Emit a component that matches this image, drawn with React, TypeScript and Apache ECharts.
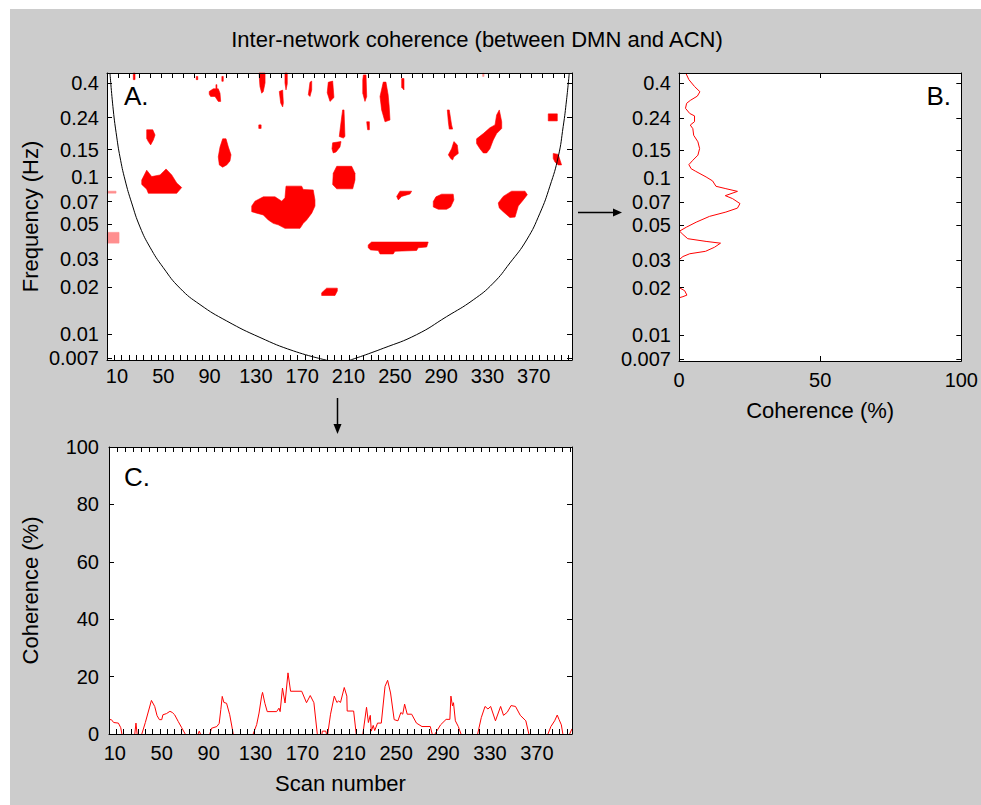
import React, { useEffect, useRef } from "react";
import * as echarts from "echarts";

const FONT = '"Liberation Sans", Arial, Helvetica, sans-serif';
const L10 = Math.log10;

// ---------- axis ranges & tick labels ----------
const scanRangeA = [1.4, 403];
const scanRangeC = [5, 400];
const freqRange = [0.00682, 0.463];
const scanTickLabels = [10, 50, 90, 130, 170, 210, 250, 290, 330, 370];
const freqTicks = [0.007, 0.01, 0.02, 0.03, 0.05, 0.07, 0.1, 0.15, 0.24, 0.4];
const freqTickLabels = ["0.007", "0.01", "0.02", "0.03", "0.05", "0.07", "0.1", "0.15", "0.24", "0.4"];
const cohTicksB = [0, 50, 100];

// ---------- panel A: cone of influence (scan, Hz) ----------
const coiLeft: [number, number][] = [
  [4, 0.46], [6.8, 0.269], [9.8, 0.181], [12.6, 0.135], [17, 0.096], [22.7, 0.0686],
  [29.9, 0.0482], [38.5, 0.0358], [50, 0.0265], [64.4, 0.0196], [81.7, 0.0154],
  [104.8, 0.0121], [133.5, 0.0095], [162.3, 0.0078], [191.1, 0.0068],
];
const coiRight: [number, number][] = [
  [211.2, 0.0068], [240, 0.0081], [268.8, 0.0099], [294.7, 0.0129], [317.7, 0.0165],
  [335, 0.0211], [349.4, 0.0284], [363.8, 0.0398], [375.3, 0.059], [383.9, 0.0877],
  [391.1, 0.135], [395.4, 0.211], [398.3, 0.312], [400.6, 0.46],
];

// ---------- panel A: significant coherence regions (scan, Hz) ----------
const sigRegions: [number, number][][] = [
  [[31.4, 0.096], [35.7, 0.111], [40, 0.101], [47.2, 0.1035], [52.4, 0.113], [57.3, 0.1035], [61.6, 0.092], [65.9, 0.086], [61.6, 0.079], [37.1, 0.079], [35.7, 0.084], [31.4, 0.09]],
  [[35.7, 0.201], [40.9, 0.201], [42.9, 0.186], [41.4, 0.173], [39.1, 0.161], [37.1, 0.169], [35.7, 0.177]],
  [[89.7, 0.353], [93.2, 0.367], [95.5, 0.367], [95.5, 0.39], [96.3, 0.39], [96.3, 0.367], [97.5, 0.367], [99, 0.344], [99.6, 0.305], [97.5, 0.305], [94.7, 0.328], [90.9, 0.328], [89.7, 0.339]],
  [[101.3, 0.176], [104.2, 0.176], [106.2, 0.156], [108.5, 0.139], [107.6, 0.127], [104.8, 0.12], [101.3, 0.116], [98.4, 0.12], [97.5, 0.135], [99, 0.156]],
  [[132.5, 0.216], [134.5, 0.216], [134.5, 0.205], [132.5, 0.205]],
  [[132.7, 0.463], [137.9, 0.463], [137.9, 0.4], [136.4, 0.353], [135, 0.344], [133.5, 0.38]],
  [[150.2, 0.353], [153.1, 0.36], [153.7, 0.298], [153.1, 0.281], [151.4, 0.298]],
  [[155.1, 0.463], [157.1, 0.463], [157.1, 0.395], [156, 0.361], [155.1, 0.4]],
  [[176.7, 0.404], [178.2, 0.411], [178.2, 0.361], [176.7, 0.328], [175.3, 0.336]],
  [[126.4, 0.0655], [129.2, 0.0704], [136.4, 0.075], [146.5, 0.075], [152.3, 0.0704], [155.1, 0.074], [156, 0.0878], [169.5, 0.0878], [170.9, 0.0836], [179.5, 0.083], [181, 0.0717], [181, 0.0655], [178.2, 0.059], [173.8, 0.0534], [170.9, 0.0508], [168.1, 0.0472], [155.1, 0.0472], [149.3, 0.0497], [145, 0.0508], [140.7, 0.0534], [136.4, 0.0575], [130.7, 0.059], [126.4, 0.0603]],
  [[186.8, 0.0183], [191.1, 0.0196], [200.3, 0.0196], [200.3, 0.0188], [198.3, 0.0176], [186.8, 0.0176]],
  [[196.8, 0.106], [199.8, 0.1175], [212.7, 0.1175], [215.6, 0.106], [215.6, 0.0962], [213.6, 0.0844], [199.8, 0.0844], [196.3, 0.0898]],
  [[196.3, 0.166], [203.5, 0.169], [202.6, 0.156], [199.2, 0.145], [196.8, 0.143], [195.7, 0.152]],
  [[204.9, 0.269], [206.1, 0.269], [206.9, 0.182], [205.5, 0.178], [202, 0.182], [203.2, 0.216]],
  [[192.5, 0.404], [196.3, 0.411], [197.4, 0.323], [194, 0.305], [191.6, 0.346]],
  [[222.8, 0.45], [225.1, 0.45], [225.7, 0.328], [224.2, 0.305], [222.3, 0.344], [222.3, 0.418]],
  [[225.7, 0.226], [228, 0.226], [228, 0.201], [226.5, 0.201]],
  [[240, 0.405], [242.3, 0.405], [244.2, 0.336], [245.1, 0.284], [245.8, 0.232], [241.5, 0.226], [238.6, 0.269], [237.2, 0.328]],
  [[255.9, 0.427], [257.9, 0.427], [257.9, 0.361], [255.9, 0.375]],
  [[251.6, 0.0755], [254.4, 0.0815], [264.5, 0.0815], [263.1, 0.0783], [255.9, 0.0755], [253, 0.0717]],
  [[227, 0.037], [229.9, 0.0386], [278.8, 0.0386], [277.5, 0.0359], [270.2, 0.0355], [268.8, 0.0341], [250.1, 0.0337], [248.6, 0.0324], [237.2, 0.0324], [235.7, 0.0341], [229.1, 0.0344], [227, 0.0355]],
  [[283.2, 0.07], [285.5, 0.075], [290.4, 0.078], [300.4, 0.078], [301, 0.0717], [298.2, 0.0647], [294.7, 0.0625], [287.5, 0.0625], [283.2, 0.0647]],
  [[301, 0.169], [303.9, 0.161], [304.8, 0.142], [301, 0.135], [299.9, 0.129], [298.2, 0.132], [296.2, 0.139], [299, 0.152]],
  [[295.3, 0.269], [297, 0.269], [299, 0.216], [299.9, 0.203], [297, 0.203], [296.2, 0.226]],
  [[320.6, 0.176], [326.4, 0.19], [332.1, 0.207], [336.5, 0.216], [337.9, 0.25], [340.2, 0.269], [342.3, 0.226], [342.3, 0.205], [337.9, 0.19], [335, 0.173], [332.1, 0.152], [329.3, 0.143], [326.4, 0.143], [323.5, 0.152], [320.6, 0.164]],
  [[339.3, 0.0686], [343.6, 0.0755], [349.4, 0.0804], [350.9, 0.0815], [362.4, 0.0815], [364.4, 0.0774], [360.9, 0.0717], [356.6, 0.0655], [353.8, 0.0557], [349.4, 0.0553], [343.6, 0.0603], [340.2, 0.0637]],
  [[382.5, 0.254], [390.3, 0.254], [390.3, 0.229], [382.5, 0.229]],
  [[386.8, 0.142], [391.1, 0.14], [392.6, 0.129], [394, 0.12], [391.1, 0.12], [388.3, 0.125], [386.8, 0.132]],
  [[24.1, 0.463], [25.6, 0.463], [25.6, 0.42], [24.1, 0.42]],
  [[78.5, 0.44], [79.8, 0.44], [79.8, 0.42], [78.5, 0.42]],
  [[100.6, 0.44], [101.8, 0.44], [101.8, 0.41], [100.6, 0.41]],
];
// regions outside the cone (faded)
const fadedRegions: [number, number][][] = [
  [[1.6, 0.0815], [9.2, 0.0815], [9.2, 0.0792], [1.6, 0.0792]],
  [[1.6, 0.0445], [11.8, 0.0445], [11.8, 0.038], [1.6, 0.038]],
  [[325.8, 0.463], [327, 0.463], [327, 0.44], [325.8, 0.44]],
];

// ---------- panel B: coherence (%) by frequency (Hz) ----------
const bFreq = [0.463, 0.42, 0.38, 0.352, 0.33, 0.31, 0.297, 0.276, 0.256, 0.247, 0.227, 0.216, 0.205, 0.186, 0.169, 0.153, 0.139, 0.129, 0.121, 0.114, 0.11, 0.101, 0.0953, 0.0881, 0.0851, 0.0818, 0.0768, 0.0735, 0.0684, 0.064, 0.0604, 0.0567, 0.0521, 0.0484, 0.0457, 0.0435, 0.0409, 0.0393, 0.0383, 0.0361, 0.034, 0.0328, 0.0315, 0.03, 0.02, 0.0191, 0.0179, 0.0175, 0.0172, 0.0068];
const bCoherence = [2.4, 3.5, 5.5, 7.4, 6.5, 4, 2.7, 2.3, 3.8, 5.5, 5.5, 4, 4.9, 5.2, 6.7, 7.3, 6.7, 4.9, 3.5, 4.3, 5.8, 9.6, 11.9, 13.1, 16.6, 20.7, 16.4, 19, 21.6, 20.7, 16.6, 10.8, 6.1, 2.6, 0.2, 1.4, 3.1, 9.6, 14.7, 12.6, 9.4, 3.8, 1.4, 0, 0, 2, 2.8, 1.4, 0, 0];

// ---------- panel C: coherence (%) by scan number ----------
const cScan = [5, 7, 9, 13, 15, 16, 27, 28, 29, 33, 36, 41.2, 44, 46, 48, 50, 51, 54, 57, 59, 61, 64, 67, 70, 81, 82, 83, 91, 92.5, 97, 99, 100.4, 101.6, 103, 105.3, 108, 111, 128, 131, 133, 135.2, 136, 138, 140, 148, 150, 151, 153, 155.2, 157.7, 159.9, 169.4, 173.5, 176.7, 179.8, 182.7, 186.7, 187, 190, 190.5, 191.6, 194, 197.2, 199.4, 200.9, 202.5, 205.7, 207.9, 208.2, 213.7, 215.9, 221.6, 224.7, 226.3, 227.9, 228.8, 230.4, 231.7, 234.1, 237.3, 240.5, 242.7, 245.2, 248.3, 251.5, 254, 255.6, 257.2, 259.4, 263.2, 267.3, 272, 279.1, 280.7, 283.1, 287.9, 292.6, 295.8, 296.7, 298, 298.9, 300.5, 303, 305.3, 319.5, 322.6, 325.8, 328.3, 330.6, 334.7, 339.1, 341.6, 344.8, 348, 351.8, 355.9, 360.6, 363.2, 379.5, 382, 385.2, 387.4, 389, 390.9, 392.2, 398, 400];
const cCoherence = [5, 5, 4, 3.8, 2.2, 0, 0, 3.8, 0, 0, 4, 11.7, 9.6, 6.4, 5, 5, 6.7, 7.1, 7.9, 7.5, 6.7, 4.4, 2.2, 0, 0, 1, 0, 0, 2, 2.6, 3.7, 8.5, 13.1, 11, 10.7, 6.7, 0, 0, 3.3, 7.3, 13.2, 14.5, 10.7, 7.8, 7.8, 9, 7.8, 16, 10.8, 21.3, 14.9, 14.9, 10.9, 13.4, 10.9, 0, 0, 1, 1, 0, 0, 6.9, 13.2, 11, 11.5, 11, 16.2, 13.2, 8, 8, 0, 0, 9.3, 4, 6.5, 1, 3, 1.2, 3.8, 3.8, 16.6, 18.7, 14.3, 5, 4.6, 7.5, 6.9, 10.4, 6.9, 6.9, 3.8, 2.6, 2.6, 0, 0, 3.2, 5.1, 5.1, 13.2, 9.8, 10.9, 4.6, 2.6, 0, 0, 5.7, 9.6, 8.7, 9.6, 4.6, 9.6, 6.5, 7.6, 9.9, 9.6, 6.5, 4.6, 0, 0, 2.6, 4.6, 6.6, 5, 3.2, 0, 0, 1.8];

function stepTicks(min: number, max: number, step: number) {
  const out: number[] = [];
  for (let v = min; v <= max + 1e-9; v += step) out.push(+v.toFixed(4));
  return out;
}

// pairs of points, with a gap wherever the coherence stays at zero (hidden under the axis)
function pairsWithGaps(coh: number[], other: number[], cohFirst: boolean) {
  const out: number[][] = [];
  for (let i = 0; i < coh.length; i++) {
    out.push(cohFirst ? [coh[i], other[i]] : [other[i], coh[i]]);
    if (i < coh.length - 1 && coh[i] === 0 && coh[i + 1] === 0) out.push([NaN, NaN]);
  }
  return out;
}

export default function App() {
  const ref = useRef<HTMLDivElement>(null);
  useEffect(() => {
    if (!ref.current) return;
    const chart = echarts.init(ref.current, undefined, { renderer: "svg" });
    const black = "#000";
    const red = "#ff0000";
    const labelStyle = { color: black, fontSize: 20, fontFamily: FONT };
    const nameStyle = { color: black, fontSize: 22, fontFamily: FONT };
    const axisLine = { show: true, onZero: false, lineStyle: { color: black, width: 1 } };
    const tick = (vals: number[]) => ({ show: true, inside: true, length: 5, customValues: vals, lineStyle: { color: black, width: 1 } });
    const noLabel = { show: false };
    const noSplit = { show: false };
    const fLog = freqTicks.map(L10);
    const fmtFreq = (v: number) => {
      for (let i = 0; i < fLog.length; i++) if (Math.abs(fLog[i] - v) < 1e-6) return freqTickLabels[i];
      return "";
    };
    const yMin = L10(freqRange[0]);
    const yMax = L10(freqRange[1]);

    const polySeries = (regions: [number, number][][], color: string) => ({
      type: "custom",
      xAxisIndex: 0,
      yAxisIndex: 0,
      silent: true,
      z: 2,
      data: regions.map((r) => [r[0][0], L10(r[0][1])]),
      renderItem: (params: any, api: any) => {
        const reg = regions[params.dataIndex];
        const pts = reg.map(([s, f]) => api.coord([s, L10(f)]));
        return { type: "polygon", shape: { points: pts }, style: { fill: color, stroke: color, lineWidth: 0.6 } };
      },
    });

    const lineSeries = (xi: number, yi: number, data: number[][], color: string, smooth = false) => ({
      type: "line",
      xAxisIndex: xi,
      yAxisIndex: yi,
      data,
      symbol: "none",
      silent: true,
      smooth,
      connectNulls: false,
      z: 3,
      lineStyle: { color, width: 1 },
    });

    const bData = pairsWithGaps(bCoherence, bFreq.map(L10), true);
    const cData = pairsWithGaps(cCoherence, cScan, false);

    const option: any = {
      animation: false,
      backgroundColor: "#cccccc",
      textStyle: { fontFamily: FONT },
      grid: [
        { left: 97, top: 64, width: 465, height: 287, show: true, backgroundColor: "#fff", borderWidth: 0 },
        { left: 669, top: 64, width: 284, height: 288, show: true, backgroundColor: "#fff", borderWidth: 0 },
        { left: 99, top: 438, width: 463, height: 287, show: true, backgroundColor: "#fff", borderWidth: 0 },
      ],
      xAxis: [
        {
          type: "value", gridIndex: 0, position: "bottom", min: scanRangeA[0], max: scanRangeA[1], z: 5,
          axisLine, axisTick: tick(stepTicks(scanRangeA[0], scanRangeA[1], 6.33)), splitLine: noSplit,
          axisLabel: { ...labelStyle, margin: 6, customValues: scanTickLabels, formatter: (v: number) => String(v) },
        },
        {
          type: "value", gridIndex: 0, position: "top", min: scanRangeA[0], max: scanRangeA[1], z: 5,
          axisLine, axisTick: tick(stepTicks(scanRangeA[0], scanRangeA[1], 9.4)), splitLine: noSplit, axisLabel: noLabel,
        },
        {
          type: "value", gridIndex: 1, position: "bottom", min: 0, max: 100, z: 5,
          axisLine, axisTick: tick(cohTicksB), splitLine: noSplit,
          axisLabel: { ...labelStyle, margin: 9, customValues: cohTicksB },
          name: "Coherence (%)", nameLocation: "middle", nameGap: 38, nameTextStyle: nameStyle,
        },
        {
          type: "value", gridIndex: 1, position: "top", min: 0, max: 100, z: 5,
          axisLine, axisTick: tick(cohTicksB), splitLine: noSplit, axisLabel: noLabel,
        },
        {
          type: "value", gridIndex: 2, position: "bottom", min: scanRangeC[0], max: scanRangeC[1], z: 5,
          axisLine, axisTick: tick(stepTicks(scanRangeC[0], scanRangeC[1], 6.2)), splitLine: noSplit,
          axisLabel: { ...labelStyle, margin: 9, customValues: scanTickLabels, formatter: (v: number) => String(v) },
          name: "Scan number", nameLocation: "middle", nameGap: 38, nameTextStyle: nameStyle,
        },
        {
          type: "value", gridIndex: 2, position: "top", min: scanRangeC[0], max: scanRangeC[1], z: 5,
          axisLine, axisTick: tick(stepTicks(scanRangeC[0], scanRangeC[1], 6.9)), splitLine: noSplit, axisLabel: noLabel,
        },
      ],
      yAxis: [
        {
          type: "value", gridIndex: 0, position: "left", min: yMin, max: yMax, z: 5,
          axisLine, axisTick: tick(fLog), splitLine: noSplit,
          axisLabel: { ...labelStyle, margin: 8, customValues: fLog, formatter: fmtFreq },
          name: "Frequency (Hz)", nameLocation: "middle", nameGap: 66, nameTextStyle: nameStyle,
        },
        {
          type: "value", gridIndex: 0, position: "right", min: yMin, max: yMax, z: 5,
          axisLine, axisTick: tick(fLog), splitLine: noSplit, axisLabel: noLabel,
        },
        {
          type: "value", gridIndex: 1, position: "left", min: yMin, max: yMax, z: 5,
          axisLine, axisTick: tick(fLog), splitLine: noSplit,
          axisLabel: { ...labelStyle, margin: 8, customValues: fLog, formatter: fmtFreq },
        },
        {
          type: "value", gridIndex: 1, position: "right", min: yMin, max: yMax, z: 5,
          axisLine, axisTick: tick(fLog), splitLine: noSplit, axisLabel: noLabel,
        },
        {
          type: "value", gridIndex: 2, position: "left", min: 0, max: 100, interval: 20, z: 5,
          axisLine, axisTick: { show: true, inside: true, length: 5, lineStyle: { color: black } }, splitLine: noSplit,
          axisLabel: { ...labelStyle, margin: 10 },
          name: "Coherence (%)", nameLocation: "middle", nameGap: 68, nameTextStyle: nameStyle,
        },
        {
          type: "value", gridIndex: 2, position: "right", min: 0, max: 100, interval: 20, z: 5,
          axisLine, axisTick: { show: true, inside: true, length: 5, lineStyle: { color: black } }, splitLine: noSplit, axisLabel: noLabel,
        },
      ],
      series: [
        polySeries(fadedRegions, "#ff8f8f"),
        polySeries(sigRegions, red),
        lineSeries(0, 0, coiLeft.map(([s, f]) => [s, L10(f)]), black, true),
        lineSeries(0, 0, coiRight.map(([s, f]) => [s, L10(f)]), black, true),
        lineSeries(2, 2, bData, red),
        lineSeries(4, 4, cData, red),
      ],
      graphic: [
        { type: "text", x: 467, y: 30, silent: true, style: { text: "Inter-network coherence (between DMN and ACN)", fill: black, font: `22px ${FONT}`, textAlign: "center", textVerticalAlign: "middle" } },
        { type: "text", x: 114, y: 87, silent: true, style: { text: "A.", fill: black, font: `26px ${FONT}`, textAlign: "left", textVerticalAlign: "middle" } },
        { type: "text", x: 941, y: 87, silent: true, style: { text: "B.", fill: black, font: `26px ${FONT}`, textAlign: "right", textVerticalAlign: "middle" } },
        { type: "text", x: 114, y: 468, silent: true, style: { text: "C.", fill: black, font: `26px ${FONT}`, textAlign: "left", textVerticalAlign: "middle" } },
        { type: "line", silent: true, shape: { x1: 568, y1: 203.5, x2: 605, y2: 203.5 }, style: { stroke: black, lineWidth: 1.5 } },
        { type: "polygon", silent: true, shape: { points: [[603, 199.5], [612, 203.5], [603, 207.5]] }, style: { fill: black } },
        { type: "line", silent: true, shape: { x1: 327.5, y1: 389, x2: 327.5, y2: 417 }, style: { stroke: black, lineWidth: 1.5 } },
        { type: "polygon", silent: true, shape: { points: [[323.5, 415], [327.5, 425], [331.5, 415]] }, style: { fill: black } },
      ],
    };
    chart.setOption(option);
    return () => chart.dispose();
  }, []);
  return (
    <div
      ref={ref}
      style={{ position: "absolute", left: 10, top: 9, width: 971, height: 796, background: "#cccccc" }}
    />
  );
}
